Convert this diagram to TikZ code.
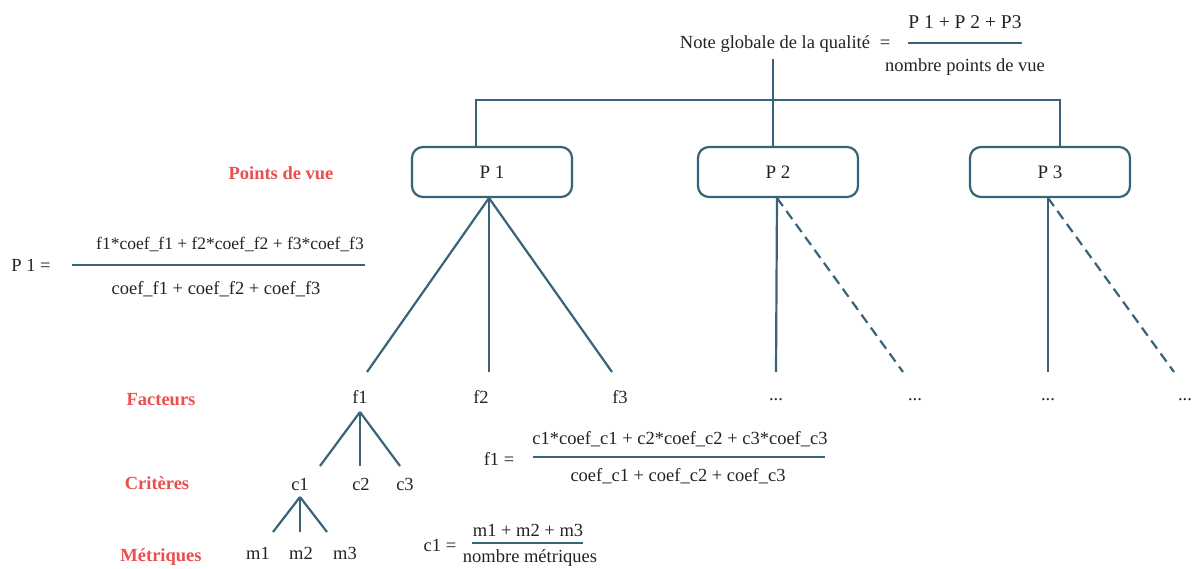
\documentclass[tikz,border=0pt]{standalone}
\usepackage{fontspec}
\setmainfont{Liberation Serif}
\definecolor{lc}{RGB}{55,100,120}
\definecolor{redlbl}{RGB}{232,80,80}
\definecolor{tx}{RGB}{35,35,35}
\begin{document}
\begin{tikzpicture}[x=1pt,y=-1pt,
  txt/.style={font=\fontsize{18.5}{21}\selectfont, inner sep=0pt, text=tx},
  cat/.style={font=\fontsize{18.5}{22}\selectfont\bfseries, inner sep=0pt, text=redlbl},
  pbox/.style={draw=lc, line width=2.2pt, rounded corners=11pt, minimum width=160pt, minimum height=50pt, inner sep=0pt, font=\fontsize{19}{22}\selectfont, text=tx},
  edge/.style={draw=lc, line width=2.2pt},
  dedge/.style={edge, dash pattern=on 10pt off 6pt},
  bar/.style={draw=lc, line width=2.4pt}
]
\useasboundingbox (0,0) rectangle (1197,569);

% global formula
\node[txt] (note) at (775,44) {Note globale de la qualité};
\node[txt] (eq0) at (885,44) {=};
\node[txt, font=\fontsize{19.5}{22}\selectfont] (num0) at (965,22) {P 1 + P 2 + P3};
\node[txt] (den0) at (965,67) {nombre points de vue};
\coordinate (b0l) at (908,43); \coordinate (b0r) at (1022,43);
\draw[bar] (b0l) -- (b0r);

% points de vue
\node[pbox] (P1) at (492,172) {P 1};
\node[pbox] (P2) at (778,172) {P 2};
\node[pbox] (P3) at (1050,172) {P 3};
\node[cat] (lpv) at (281,173) {Points de vue};

\coordinate (j1) at (476,100);
\coordinate (j2) at (773,100);
\coordinate (j3) at (1060,100);
\draw[edge] (j1 |- P1.north) -- (j1) -- (j3) -- (j3 |- P3.north);
\draw[edge] (note.south -| j2) ++(0,6) -- (j2 |- P2.north);

% P1 formula
\node[txt] (P1eq) at (31,265) {P 1 =};
\node[txt, font=\fontsize{17.5}{20}\selectfont] (P1num) at (230,244) {f1*coef\_f1 + f2*coef\_f2 + f3*coef\_f3};
\node[txt] (P1den) at (216,289) {coef\_f1 + coef\_f2 + coef\_f3};
\coordinate (b1l) at (72,265); \coordinate (b1r) at (365,265);
\draw[bar] (b1l) -- (b1r);

% facteurs
\coordinate (a1) at (489,198);
\coordinate (a2) at (777,198);
\coordinate (a3) at (1048,198);
\coordinate (f1e) at (367,372);
\coordinate (f2e) at (489,372);
\coordinate (f3e) at (612,372);
\draw[edge] (a1) -- (f1e);
\draw[edge] (a1) -- (f2e);
\draw[edge] (a1) -- (f3e);
\coordinate (p2s) at (776,372);
\coordinate (p2d) at (903,372);
\coordinate (p3s) at (1048,372);
\coordinate (p3d) at (1174,372);
\draw[edge] (a2) -- (p2s);
\draw[dedge] (a2) -- (p2d);
\draw[edge] (a3) -- (p3s);
\draw[dedge] (a3) -- (p3d);

\node[cat] (lfa) at (161,400) {Facteurs};
\node[txt] (f1) at (360,397) {f1};
\node[txt] (f2) at (481,397) {f2};
\node[txt] (f3) at (620,397) {f3};
\node[txt] (d1) at (776,400) {...};
\node[txt] (d2) at (915,400) {...};
\node[txt] (d3) at (1048,400) {...};
\node[txt] (d4) at (1185,400) {...};

% f1 formula
\node[txt] (f1eq) at (499,459) {f1 =};
\node[txt] (f1num) at (680,439) {c1*coef\_c1 + c2*coef\_c2 + c3*coef\_c3};
\node[txt] (f1den) at (678,476) {coef\_c1 + coef\_c2 + coef\_c3};
\coordinate (b2l) at (533,457); \coordinate (b2r) at (825,457);
\draw[bar] (b2l) -- (b2r);

% criteres
\coordinate (af) at (360,412);
\coordinate (c1e) at (320,466);
\coordinate (c2e) at (360,466);
\coordinate (c3e) at (400,466);
\draw[edge] (af) -- (c1e);
\draw[edge] (af) -- (c2e);
\draw[edge] (af) -- (c3e);
\node[cat] (lcr) at (157,483) {Critères};
\node[txt] (c1) at (300,484) {c1};
\node[txt] (c2) at (361,484) {c2};
\node[txt] (c3) at (405,484) {c3};

% metriques
\coordinate (ac) at (300,497);
\coordinate (m1e) at (273,532);
\coordinate (m2e) at (300,532);
\coordinate (m3e) at (327,532);
\draw[edge] (ac) -- (m1e);
\draw[edge] (ac) -- (m2e);
\draw[edge] (ac) -- (m3e);
\node[cat] (lme) at (161,557) {Métriques};
\node[txt] (m1) at (258,553) {m1};
\node[txt] (m2) at (301,553) {m2};
\node[txt] (m3) at (345,553) {m3};

% c1 formula
\node[txt] (c1eq) at (440,545) {c1 =};
\node[txt] (c1num) at (528,530) {m1 + m2 + m3};
\node[txt] (c1den) at (530,558) {nombre métriques};
\coordinate (b3l) at (472,543); \coordinate (b3r) at (583,543);
\draw[bar] (b3l) -- (b3r);
\end{tikzpicture}
\end{document}
